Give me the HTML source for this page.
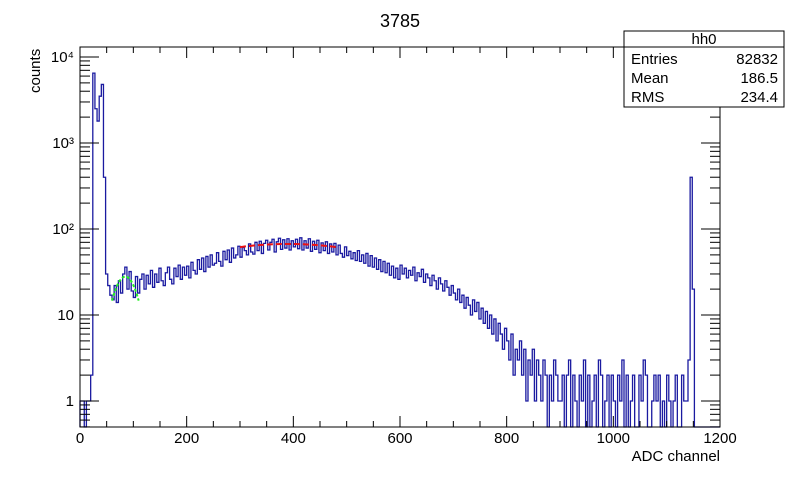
<!DOCTYPE html>
<html><head><meta charset="utf-8"><style>
body{margin:0;background:#fff}
svg text{font-family:"Liberation Sans",sans-serif;fill:#000}
</style></head><body>
<svg id="chart" width="800" height="475" viewBox="0 0 800 475" xmlns="http://www.w3.org/2000/svg">
<rect width="800" height="475" fill="#fff"/>
<text x="400" y="27" font-size="18" text-anchor="middle">3785</text>
<g id="plot"></g>
<g id="axes"></g>
<text x="720" y="461" font-size="15" text-anchor="end">ADC channel</text>
<text transform="translate(40,93) rotate(-90)" font-size="15">counts</text>
<g>
<rect x="624" y="31" width="160" height="76" fill="#fff" stroke="#000" stroke-width="1"/>
<line x1="624" y1="47" x2="784" y2="47" stroke="#000"/>
<text x="704" y="44" font-size="15" text-anchor="middle">hh0</text>
<text x="631" y="64" font-size="15">Entries</text><text x="778" y="64" font-size="15" text-anchor="end">82832</text>
<text x="631" y="83" font-size="15">Mean</text><text x="778" y="83" font-size="15" text-anchor="end">186.5</text>
<text x="631" y="102" font-size="15">RMS</text><text x="778" y="102" font-size="15" text-anchor="end">234.4</text>
</g>
</svg>
<script>
const binWidth = 4;
const counts = [
1,1,0,1,1,2,6500,2500,1800,3500,4800,400,30,22,17,
15,22,14,25,18,30,36,20,32,19,16,28,18,26,30,
20,29,23,33,21,30,24,35,25,22,31,36,26,23,35,28,38,26,36,29,
37,27,41,33,30,44,34,46,32,48,36,50,38,40,53,42,37,55,44,57,41,60,46,50,63,
47,61,56,50,67,54,51,70,56,72,52,68,74,57,70,76,54,71,78,58,75,60,77,57,73,
62,76,59,79,57,73,60,77,55,72,58,74,53,69,56,71,52,67,54,68,50,65,52,47,62,
49,55,45,53,43,56,42,50,40,52,37,49,36,46,34,44,32,42,31,40,29,37,27,35,26,
38,30,35,27,33,29,36,25,31,28,34,24,30,27,22,29,25,20,27,23,19,25,21,17,22,
18,15,20,14,17,12,16,13,10,15,11,14,9,12,8,11,7,10,6,9,5,8,6,4,7,
5,3,6,2,4,3,5,2,4,1,3,2,4,1,3,2,1,3,2,0,2,1,3,2,1,
1,2,0,2,3,0,2,1,0,2,1,3,0,2,0,1,2,0,3,2,0,1,2,0,2,
1,0,2,1,3,0,2,0,1,2,0,0,2,1,3,2,0,0,1,2,1,2,0,1,0,
2,1,0,1,2,0,0,2,1,1,3,400,20,0,0,0,0,0,0,0,0,0,0,0,0];
const xTicks = [0,200,400,600,800,1000,1200];
const yDecades = [0,1,2,3,4];
const yLabels = ["1","10","10²","10³","10⁴"];
const greenFit = [28, 85, 22, 60, 110];   // amp, mean, sigma, from, to
const redFit = [67, 390, 220, 300, 480];

const L=80,R=720,T=47,B=427;
const X=v=>L+(v/1200)*(R-L);
const Y=c=>{ if(c<=0) return B; const y=401-86*Math.log10(c); return Math.max(T,Math.min(B,y)); };
const NS="http://www.w3.org/2000/svg";
const plot=document.getElementById('plot'), axes=document.getElementById('axes');
function mk(tag,attrs,parent){const e=document.createElementNS(NS,tag);for(const k in attrs)e.setAttribute(k,attrs[k]);parent.appendChild(e);return e;}

let d=`M${X(0)},${B}`;
counts.forEach((c,i)=>{const x0=X(i*binWidth),x1=X((i+1)*binWidth),y=Y(c);d+=`L${x0},${y}L${x1},${y}`;});
const h=mk('path',{d:d,fill:'none',stroke:'#1a1aa0','stroke-width':'1.3'},plot);



function fit(p,color,name,dash){
  let s='';for(let x=p[3];x<=p[4];x+=2){const v=p[0]*Math.exp(-0.5*((x-p[1])/p[2])**2);s+=(s?'L':'M')+X(x)+','+Y(v);}
  const e=mk('path',{d:s,fill:'none',stroke:color,'stroke-width':'2','stroke-dasharray':dash},plot);
  
  
}
fit(greenFit,'#22ee22','green-fit-curve','3,2');
fit(redFit,'#ee1111','red-fit-curve','6,3');

const fr=mk('rect',{x:L,y:T,width:R-L,height:B-T,fill:'none',stroke:'#000','stroke-width':'1'},axes);


for(let v=0;v<=1200;v+=50){const major=v%200===0,len=major?11:6;
  mk('line',{x1:X(v),x2:X(v),y1:B,y2:B-len,stroke:'#000'},axes);
  mk('line',{x1:X(v),x2:X(v),y1:T,y2:T+len,stroke:'#000'},axes);}
xTicks.forEach(v=>{const t=mk('text',{x:X(v),y:443,'font-size':'15','text-anchor':'middle'},axes);t.textContent=v;
  
  });
for(let dcd=-1;dcd<=4;dcd++){for(let m=1;m<=9;m++){const c=m*Math.pow(10,dcd);const y=401-86*Math.log10(c);
  if(y<T||y>B)continue;const len=m===1?19:10;
  mk('line',{x1:L,x2:L+len,y1:y,y2:y,stroke:'#000'},axes);
  mk('line',{x1:R,x2:R-len,y1:y,y2:y,stroke:'#000'},axes);}}
yDecades.forEach((dc,i)=>{const t=mk('text',{x:74,y:401-86*dc+5,'font-size':'15','text-anchor':'end'},axes);t.textContent=yLabels[i];
  
  });
</script>
</body></html>
